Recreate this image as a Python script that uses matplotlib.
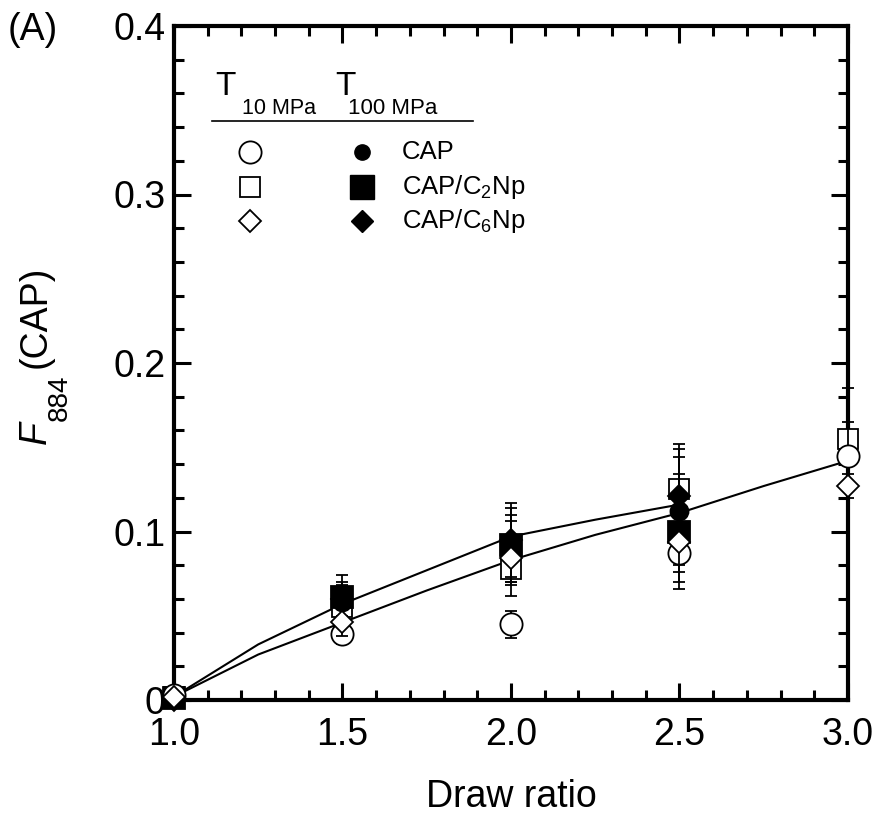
import matplotlib
matplotlib.use("Agg")
import matplotlib.pyplot as plt
import numpy as np

plt.rcParams['font.family'] = ['Liberation Sans', 'DejaVu Sans']
plt.rcParams['mathtext.fontset'] = 'custom'
plt.rcParams['mathtext.rm'] = 'Liberation Sans'
plt.rcParams['mathtext.it'] = 'Liberation Sans:italic'

# ---- data ----
draw_ratio = [1.0, 1.5, 2.0, 2.5, 3.0]
draw_ratio_f = [1.0, 1.5, 2.0, 2.5]

# T 10 MPa (open symbols)
cap_10 = [0.003, 0.039, 0.045, 0.087, 0.145]
cap_10_err = [0.0, 0.006, 0.008, 0.011, 0.02]
c2np_10 = [0.002, 0.055, 0.078, 0.125, 0.155]
c2np_10_err = [0.0, 0.008, 0.010, 0.027, 0.030]
c6np_10 = [0.002, 0.046, 0.084, 0.094, 0.127]
c6np_10_err = [0.0, 0.008, 0.022, 0.024, 0.007]

# T 100 MPa (filled symbols)
cap_100 = [0.001, 0.058, 0.090, 0.112]
cap_100_err = [0.0, 0.010, 0.020, 0.032]
c2np_100 = [0.001, 0.061, 0.092, 0.100]
c2np_100_err = [0.0, 0.013, 0.022, 0.034]
c6np_100 = [0.0, 0.060, 0.095, 0.121]
c6np_100_err = [0.0, 0.010, 0.022, 0.028]

# fitted curves
upper_x = [1.0, 1.25, 1.5, 1.75, 2.0, 2.25, 2.5]
upper_y = [0.002, 0.033, 0.057, 0.077, 0.097, 0.107, 0.116]
lower_x = [1.0, 1.25, 1.5, 1.75, 2.0, 2.25, 2.5, 2.75, 3.0]
lower_y = [0.002, 0.027, 0.046, 0.065, 0.083, 0.098, 0.111, 0.127, 0.142]

x_ticks = [1.0, 1.5, 2.0, 2.5, 3.0]
x_ticklabels = ['1.0', '1.5', '2.0', '2.5', '3.0']
y_ticks = [0, 0.1, 0.2, 0.3, 0.4]
y_ticklabels = ['0', '0.1', '0.2', '0.3', '0.4']

W, H = 879, 816
fig = plt.figure(figsize=(W/100, H/100), dpi=100)
ax = fig.add_axes([174/W, 1-700/H, 674/W, 674/H])

ax.plot(upper_x, upper_y, color='black', lw=1.5, zorder=2)
ax.plot(lower_x, lower_y, color='black', lw=1.5, zorder=2)

ekw = dict(ecolor='black', elinewidth=1.3, capsize=4, capthick=1.3, linestyle='none')

def eb(x, y, e, fmt, ms, fill, z):
    c = ax.errorbar(x, y, yerr=e, fmt=fmt, ms=ms, mfc=fill, mec='black', mew=1.3,
                    zorder=z, **ekw)
    c.lines[0].set_clip_on(False)
    for art in c.lines[1]:
        art.set_clip_on(False)
    for art in c.lines[2]:
        art.set_clip_on(False)

eb(draw_ratio, c2np_10, c2np_10_err, 's', 14.5, 'white', 3)
eb(draw_ratio_f, cap_100, cap_100_err, 'o', 13, 'black', 4)
eb(draw_ratio_f, c2np_100, c2np_100_err, 's', 15.5, 'black', 4)
eb(draw_ratio, cap_10, cap_10_err, 'o', 16, 'white', 5)
eb(draw_ratio_f, c6np_100, c6np_100_err, 'D', 11.5, 'black', 6)
eb(draw_ratio, c6np_10, c6np_10_err, 'D', 11.5, 'white', 7)

ax.set_xlim(1.0, 3.0)
ax.set_ylim(0, 0.4)
ax.set_xticks(x_ticks)
ax.set_xticklabels(x_ticklabels)
ax.set_yticks(y_ticks)
ax.set_yticklabels(y_ticklabels)
ax.set_xticks(np.arange(1.0, 3.0001, 0.1), minor=True)
ax.set_yticks(np.arange(0, 0.40001, 0.02), minor=True)
ax.tick_params(which='both', direction='in', top=True, right=True, labelsize=27,
               width=2.2, color='black')
ax.tick_params(which='major', length=12)
ax.tick_params(which='minor', length=7)
ax.tick_params(axis='x', which='major', pad=12)
ax.tick_params(axis='y', which='major', pad=6)
for s in ax.spines.values():
    s.set_linewidth(3)

ax.set_xlabel('Draw ratio', fontsize=27, labelpad=19)

tF = fig.transFigure
def fx(px):
    return px / W
def fy(py):
    return 1 - py / H

# y-label pieces (rotated)
kw = dict(rotation=90, rotation_mode='anchor', ha='left', va='baseline', transform=tF)
fig.text(fx(46), fy(444), 'F', fontsize=27, style='italic', **kw)
fig.text(fx(67), fy(421), '884', fontsize=20, **kw)
fig.text(fx(46), fy(368), '(CAP)', fontsize=27, **kw)

fig.text(fx(8), fy(40), '(A)', fontsize=27, ha='left', va='baseline')

# custom legend
tA = ax.transAxes
ax.text(0.061, 0.898, 'T', fontsize=24, transform=tA, va='baseline', ha='left')
ax.text(0.101, 0.869, '10 MPa', fontsize=15.5, transform=tA, va='baseline', ha='left')
ax.text(0.239, 0.898, 'T', fontsize=24, transform=tA, va='baseline', ha='left')
ax.text(0.258, 0.869, '100 MPa', fontsize=16, transform=tA, va='baseline', ha='left')
ax.plot([0.056, 0.444], [0.859, 0.859], color='black', lw=1.2, transform=tA)

leg_rows = [
    ('o', 16, 'o', 11, 'CAP', 0.813),
    ('s', 14.5, 's', 17, r'CAP/C$_{2}$Np', 0.761),
    ('D', 11.5, 'D', 11.5, r'CAP/C$_{6}$Np', 0.711),
]
for m_o, s_o, m_f, s_f, lab, yy in leg_rows:
    ax.plot([0.113], [yy], marker=m_o, ms=s_o, mfc='white', mec='black', mew=1.3,
            transform=tA, linestyle='none')
    ax.plot([0.279], [yy], marker=m_f, ms=s_f, mfc='black', mec='black',
            transform=tA, linestyle='none')
    ax.text(0.338, yy, lab, fontsize=18.5, transform=tA, va='center', ha='left')

fig.savefig('out.png', dpi=100)
